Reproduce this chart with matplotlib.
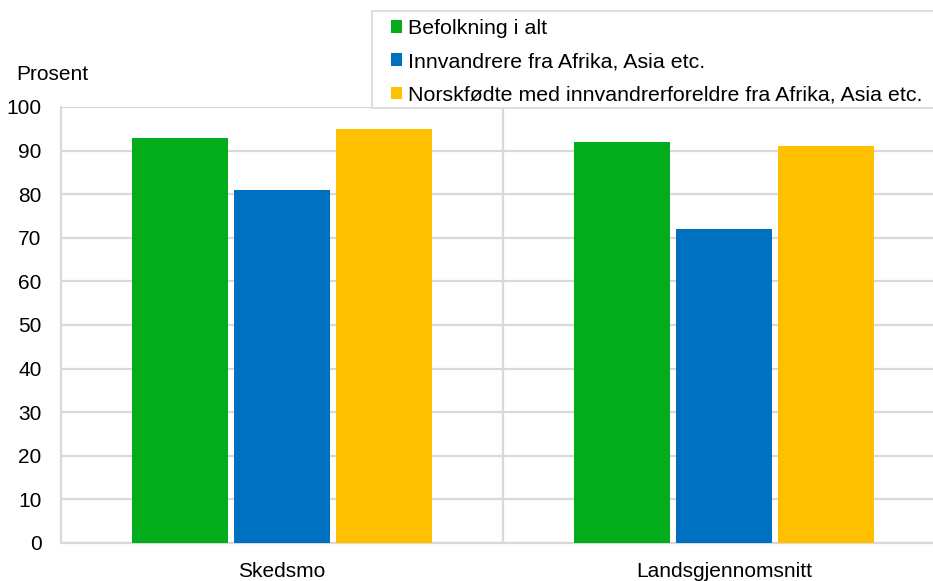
import numpy as np
import matplotlib.pyplot as plt
from matplotlib.patches import Patch, Rectangle

plt.rcParams['font.family'] = ['Liberation Sans', 'DejaVu Sans']

categories = ['Skedsmo', 'Landsgjennomsnitt']
series_names = ['Befolkning i alt',
                'Innvandrere fra Afrika, Asia etc.',
                'Norskfødte med innvandrerforeldre fra Afrika, Asia etc.']
befolkning = [93, 92]
innvandrere = [81, 72]
norskfodte = [95, 91]
colors = ['#02AC1A', '#0070C0', '#FFC000']
fs = 15

fig = plt.figure(figsize=(9.33, 5.81), dpi=100)
W, H = 933, 581
ax = fig.add_axes([61 / W, (H - 543) / H, (W - 61) / W, (543 - 107) / H])

x = np.arange(len(categories))
step = 0.231
width = 0.217
for i, (vals, c) in enumerate(zip([befolkning, innvandrere, norskfodte], colors)):
    ax.bar(x + (i - 1) * step, vals, width=width, color=c, zorder=3)

ax.set_ylim(0, 100)
ax.set_xlim(-0.5, -0.5 + (W - 61) / 442)
ax.set_yticks(range(0, 101, 10))
ax.set_xticks(x)
ax.set_xticklabels(categories)
ax.set_xticks([0.5], minor=True)
ax.tick_params(axis='both', length=0, labelsize=fs, colors='#000000')
ax.tick_params(axis='x', pad=14)
ax.tick_params(axis='y', pad=14)
ax.tick_params(which='minor', length=0)
ax.grid(axis='y', color='#D9D9D9', linewidth=1.6, zorder=0)
ax.grid(axis='x', which='minor', color='#D9D9D9', linewidth=1.6, zorder=0)
for s in ['top', 'right']:
    ax.spines[s].set_visible(False)
for s in ['left', 'bottom']:
    ax.spines[s].set_color('#D9D9D9')
    ax.spines[s].set_linewidth(1.6)

fig.text(16 / W, 1 - 74 / H, 'Prosent', fontsize=fs, va='center', ha='left')

# legend box drawn by hand, runs past the right edge like the original
box = Rectangle((372 / W, 1 - 108 / H), (W + 5 - 372) / W, 97 / H,
                transform=fig.transFigure, facecolor='white',
                edgecolor='#D9D9D9', linewidth=1.2, zorder=5)
fig.patches.append(box)

handles = [Patch(facecolor=c, edgecolor='none') for c in colors]
leg = fig.legend(handles, series_names, loc='upper left',
                 bbox_to_anchor=(391 / W, 1 - 19 / H), fontsize=15.4,
                 handlelength=0.5, handleheight=0.5, handletextpad=0.3,
                 labelspacing=0.66, borderpad=0, borderaxespad=0,
                 frameon=False)
leg.set_zorder(6)

fig.savefig('out.png', dpi=100)
